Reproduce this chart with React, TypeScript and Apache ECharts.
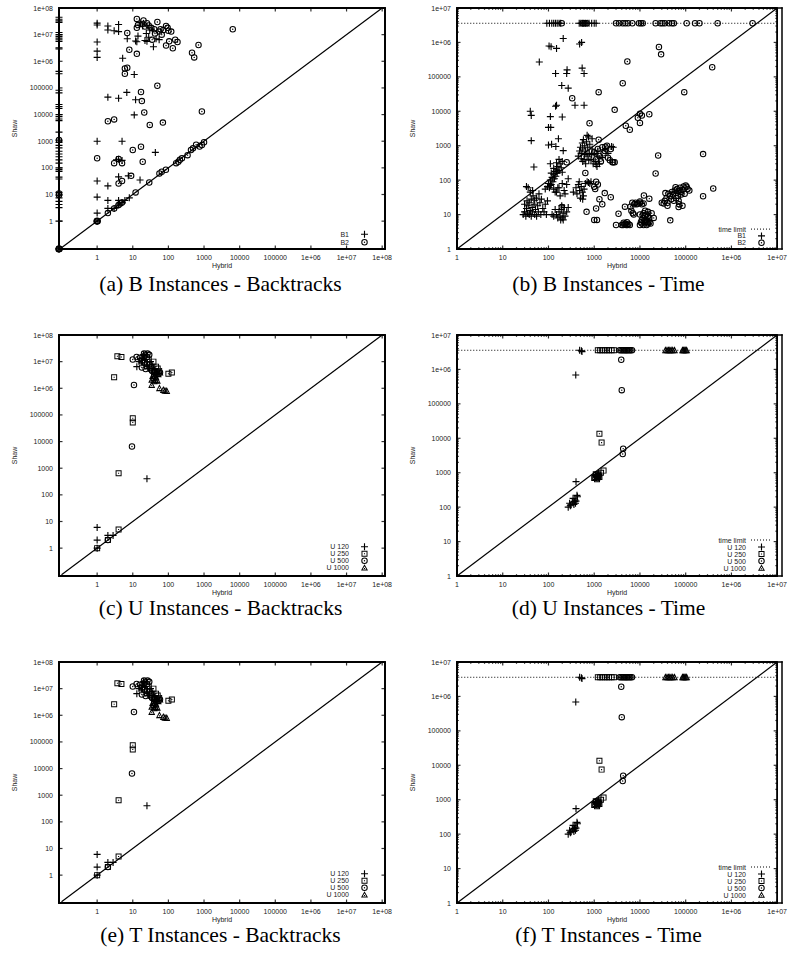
import React, { useEffect, useRef } from 'react';
import * as echarts from 'echarts';

type P = [number, number];

// ---------------- data ----------------
const TIME_LIMIT = 3600000;
const BACK_X_RANGE: P = [0.085, 1.2e8];
const BACK_Y_RANGE: P = [0.09, 1e8];
const TIME_RANGE: P = [1, 1e7];
const DIAG_BACK: P = [0.1, 1e8];
const DIAG_TIME: P = [1, 1e7];
const TL_X: P = [0.052, 1e7];
const BACK_MAJOR = [1, 10, 100, 1000, 1e4, 1e5, 1e6, 1e7, 1e8];
const TIME_MAJOR = [1, 10, 100, 1000, 1e4, 1e5, 1e6, 1e7];
const TIME_DECADES = [1, 10, 100, 1000, 1e4, 1e5, 1e6];
const MINOR_MULTS = [2, 3, 4, 5, 6, 7, 8, 9];

// (a) B instances - backtracks
const aB1: P[] = [
  [0.085, 4.5e7], [0.085, 3.8e7], [0.085, 3.3e7], [0.085, 2.9e7], [0.085, 1.2e7], [0.085, 1e7], [0.085, 8.6e6], [0.085, 7.4e6],
  [0.085, 6.4e6], [0.085, 5.6e6], [0.085, 3.2e6], [0.085, 2.9e6], [0.085, 4.2e5], [0.085, 3.4e5], [0.085, 8.2e4], [0.085, 6.5e4],
  [0.085, 2.4e4], [0.085, 2e4], [0.085, 1.7e4], [0.085, 1e4], [0.085, 8.4e3], [0.085, 6.8e3], [0.085, 5.9e3], [0.085, 2.2e3],
  [0.085, 1.1e3], [0.085, 900], [0.085, 700], [0.085, 560], [0.085, 420], [0.085, 330], [0.085, 260], [0.085, 200],
  [0.085, 150], [0.085, 100], [0.085, 86], [0.085, 74], [0.085, 45], [0.085, 38], [0.085, 12], [0.085, 9.5],
  [0.085, 7.5], [0.085, 5.5], [0.085, 4.2], [0.085, 3.2], [0.085, 1], [0.085, 0.09], [0.085, 0.092],
  [1, 2.7e7], [1, 2.3e7], [1, 5.3e6], [1, 2.4e6], [1, 1.4e6], [1, 1000], [1, 32], [1, 8], [1, 2], [1, 1],
  [2, 2.1e7], [2, 1.5e7], [3, 1.4e7], [4, 2.4e7], [4, 1.3e7], [7, 7e6], [5.2, 1.3e6], [11, 3.2e5], [6.8, 6.8e4],
  [2, 4.5e4], [4, 4.1e4], [12, 3.6e4], [11, 9.7e3], [5, 1000], [3.5, 200], [4, 210], [5, 190], [43, 380], [4, 46],
  [7.5, 50], [16, 35], [2, 21], [2, 6], [2, 3], [3, 3], [4, 6], [4, 4], [5, 5], [6, 6], [8, 7.5],
  [12, 5.8e6], [14, 8.8e6], [13, 5.4e6], [22, 6e6], [25, 5.6e6], [38, 3.5e6], [55, 6.5e6], [16, 2.8e7], [19, 2.1e7],
  [30, 1.5e7], [24, 1.1e7], [36, 1.4e7], [45, 7e6], [28, 8e6],
];
const aB2: P[] = [
  [0.085, 0.09], [0.088, 0.09], [0.085, 0.093], [0.083, 0.088], [0.085, 1100], [0.085, 11], [0.085, 9.5],
  [1, 1], [1.03, 1], [1, 1.04], [0.97, 0.98],
  [13, 3.9e7], [20, 3.4e7], [25, 2.7e7], [14, 2.3e7], [28, 2.2e7], [33, 1.8e7], [49, 3e7], [60, 1.6e7], [72, 1.5e7],
  [86, 2.1e7], [100, 1.4e7], [120, 1.3e7], [95, 1.8e7], [13, 1.8e7], [7, 1.15e7], [42, 1.1e7], [35, 6.5e6], [18, 2.5e7],
  [22, 2e7], [40, 1.6e7], [55, 1.3e7], [65, 1e7], [155, 6.5e6], [105, 5.6e6], [180, 5.3e6], [86, 3.9e6], [133, 3.1e6],
  [700, 4.1e6], [460, 2.1e6], [530, 1.4e6], [6400, 1.6e7], [8, 2.7e6], [13, 1.9e6], [6, 5.4e5], [7, 5.7e5], [6, 3.4e5],
  [49, 1.2e5], [17, 7e4], [18, 3.2e4], [21, 1.2e4], [870, 1.3e4], [2, 5.6e3], [3, 6.6e3], [30, 4.1e3], [70, 5e3],
  [10, 470], [17, 620], [1, 230], [4, 215], [3, 150], [5, 150], [19, 170], [9, 50], [5, 32], [4, 26], [29, 28], [12, 12],
  [2, 2], [3, 3], [4, 4], [5, 5], [4.5, 4.6], [56, 62], [65, 72], [85, 85], [165, 150], [190, 170], [210, 200], [240, 230],
  [345, 300], [430, 470], [490, 540], [600, 740], [750, 630], [870, 720], [1000, 920],
];

// (b) B instances - time
const bB1: P[] = [
  [92, 3.6e6], [105, 3.6e6], [118, 3.6e6], [130, 3.6e6], [142, 3.6e6], [155, 3.6e6], [170, 3.6e6], [185, 3.6e6],
  [470, 3.6e6], [510, 3.6e6], [550, 3.6e6], [590, 3.6e6], [640, 3.6e6], [700, 3.6e6], [770, 3.6e6], [880, 3.6e6],
  [1000, 3.6e6], [1100, 3.6e6],
  [103, 7.9e5], [114, 7.5e5], [150, 6.7e5], [210, 1.3e6], [480, 9e5], [530, 1e6], [63, 2.7e5], [143, 1.25e5],
  [255, 1.6e5], [250, 1.25e5], [545, 1.8e5], [600, 1.25e5], [195, 5.6e4], [270, 4.7e4], [380, 1.5e4], [600, 1.5e4],
  [150, 1.5e4], [143, 1.4e4], [40, 1e4], [42, 7.6e3], [110, 7e3], [200, 6.8e3], [100, 3.4e3], [112, 3.4e3], [42, 1.4e3],
  [100, 1.05e3], [117, 1.1e3], [145, 950], [165, 1.6e3], [210, 720], [48, 240], [33, 65], [2600, 900],
  [28, 10], [30, 12], [32, 9], [33, 15], [35, 11], [36, 18], [38, 10], [38, 22], [40, 13], [42, 9], [42, 28], [44, 16],
  [45, 12], [46, 35], [48, 20], [50, 10], [50, 26], [52, 14], [55, 9], [55, 30], [58, 18], [60, 12], [62, 40], [65, 22],
  [68, 10], [70, 28], [75, 15], [80, 12], [85, 20], [90, 10], [95, 25], [34, 25], [30, 20], [40, 45], [45, 50], [36, 60],
  [85, 55], [95, 65], [100, 80], [105, 60], [110, 100], [115, 75], [120, 120], [125, 90], [130, 150], [135, 110],
  [140, 180], [145, 130], [150, 200], [155, 160], [160, 250], [170, 190], [180, 300], [190, 230], [200, 170], [115, 160],
  [130, 220], [150, 320], [170, 400], [200, 350], [110, 300], [140, 45], [160, 60],
  [150, 10], [160, 8], [170, 12], [180, 9], [190, 14], [200, 8], [210, 11], [220, 16], [230, 9], [250, 12], [270, 16],
  [140, 14], [195, 18], [185, 7], [210, 7], [120, 10], [130, 9],
  [110, 70], [130, 55], [150, 45], [170, 60], [200, 80], [220, 50], [250, 75], [270, 110], [230, 40], [180, 35],
  [350, 45], [400, 60], [420, 40], [450, 75], [480, 50], [500, 30], [520, 65], [550, 45], [580, 35], [600, 55], [640, 80],
  [700, 90], [750, 85], [800, 80], [850, 90], [560, 28], [470, 90],
  [450, 500], [480, 700], [500, 900], [520, 600], [550, 1200], [560, 800], [580, 1500], [600, 400], [620, 1000], [650, 700],
  [680, 1300], [700, 500], [720, 900], [750, 1800], [780, 600], [800, 1100], [850, 400], [900, 800], [950, 300], [1000, 600],
  [1050, 350], [1100, 280], [1200, 500], [1300, 300], [1500, 450], [1800, 800], [2000, 600], [2400, 950], [1150, 250],
  [650, 300], [560, 350], [900, 1600], [700, 2000], [1200, 700], [520, 420], [620, 550], [760, 380], [880, 550],
];
const bB2: P[] = [
  [195, 3.6e6], [560, 3.6e6], [610, 3.6e6], [680, 3.6e6], [3000, 3.6e6], [3500, 3.6e6], [4200, 3.6e6], [4800, 3.6e6],
  [5500, 3.6e6], [6800, 3.6e6], [9500, 3.6e6], [1.05e4, 3.6e6], [1.15e4, 3.6e6], [2.2e4, 3.6e6], [2.8e4, 3.6e6],
  [3.1e4, 3.6e6], [3.5e4, 3.6e6], [4.3e4, 3.6e6], [5e4, 3.6e6], [5.5e4, 3.6e6], [1.05e5, 3.6e6], [1.6e5, 3.6e6],
  [2e5, 3.6e6], [5e5, 3.6e6], [2.9e6, 3.6e6],
  [2.6e4, 7.4e5], [2.9e4, 4.5e5], [5.3e3, 2.8e5], [3.8e5, 1.9e5], [4.2e3, 6.5e4], [9.3e4, 3.6e4], [1.25e3, 3.6e4],
  [330, 2.4e4], [2.8e3, 1.1e4], [1e4, 8.5e3], [9e3, 6.5e3], [1.1e4, 7.5e3], [1e4, 4.6e3], [1.6e4, 8.2e3], [790, 4.5e3],
  [4.9e3, 3.8e3], [6e3, 2.9e3], [1.25e3, 1.5e3], [2.5e4, 520], [2.4e5, 570], [2.2e4, 156], [250, 330], [2.6e3, 330],
  [640, 162], [1.1e3, 90], [1e3, 64], [1.7e3, 42], [2.3e3, 32], [1.3e3, 28], [1.5e3, 20], [1.1e3, 15], [680, 12],
  [3.4e3, 10.6], [3e3, 5], [4.7e3, 17], [1e4, 24], [2.4e5, 34], [4e5, 57], [1.05e5, 64], [4.6e4, 6.8], [1e3, 7],
  [1.15e3, 7], [195, 16.5], [1.22e4, 36], [1.6e4, 29], [1.05e3, 55], [1.2e3, 75],
  [1000, 650], [1200, 800], [1300, 500], [1500, 900], [1700, 700], [1900, 1000], [2000, 450], [2200, 380], [2500, 330],
  [1600, 600], [1100, 400], [1400, 350], [2800, 330], [2300, 800], [1750, 940],
  [4000, 5], [4300, 5], [4600, 5.2], [5000, 5], [5300, 5], [5600, 5.3], [6000, 5], [4800, 5.5], [5200, 6], [4400, 5.8],
  [6800, 22], [7500, 20], [8000, 22], [8500, 20], [9000, 21], [1e4, 22], [1.1e4, 20], [1.2e4, 21], [6200, 17], [7000, 11],
  [6500, 13], [7300, 10],
  [1e4, 5], [1.1e4, 5.5], [1.2e4, 5], [1.3e4, 6], [1.4e4, 5], [1.5e4, 5.5], [1.1e4, 7], [1.2e4, 8], [1.3e4, 9], [1.4e4, 10],
  [1.5e4, 12], [1.6e4, 8], [1e4, 10], [1.2e4, 11], [1.35e4, 7], [1.45e4, 6], [1.25e4, 6.5], [1.15e4, 9.5], [1.05e4, 6],
  [1.6e4, 6], [1.7e4, 5.5], [1.3e4, 13], [1.5e4, 9], [2e4, 8], [1.8e4, 11],
  [3e4, 22], [3.3e4, 21], [3.5e4, 25], [3.8e4, 30], [4e4, 22], [4.2e4, 40], [4.5e4, 35], [4.8e4, 28], [5e4, 45], [5.3e4, 38],
  [5.5e4, 25], [5.8e4, 50], [6e4, 42], [6.2e4, 30], [6.5e4, 55], [6.8e4, 35], [7e4, 48], [7.2e4, 20], [7.5e4, 60],
  [7.8e4, 45], [8e4, 38], [8.5e4, 52], [9e4, 65], [9.5e4, 40], [1e5, 70], [1.1e5, 55], [1.2e5, 50], [4e4, 18], [6e4, 62],
  [3.6e4, 42], [7e4, 25], [8.5e4, 18], [7e4, 16.5],
];

// (c) U instances - backtracks
const uBackU120: P[] = [
  [1, 6], [1, 2], [2, 3], [2.8, 3], [1, 1], [25, 400], [13, 6.5e6], [15, 1e7], [18, 9e6], [20, 1.8e7], [22, 1.2e7],
  [25, 7e6], [28, 5.5e6], [30, 1e7], [33, 8e6], [35, 4.5e6], [40, 5.5e6], [18, 1.3e7],
];
const uBackU250: P[] = [
  [1, 1], [2, 2], [4, 5], [4, 650], [10, 7.5e4], [10, 5.2e4], [3, 2.6e6], [3.7, 1.6e7], [4.8, 1.5e7], [38, 1e7],
  [45, 6.5e6], [125, 3.9e6], [100, 3.5e6], [20, 1.5e7], [25, 8e6], [30, 6e6], [35, 5e6], [28, 1.2e7], [40, 4e6],
  [50, 5.5e6], [22, 1e7], [18, 1.1e7], [55, 4.5e6],
];
const uBackU500: P[] = [
  [2, 2], [9.5, 6.5e3], [10.8, 1.33e6], [10, 1.2e7], [12.8, 1.5e7], [20.7, 2e7], [29, 1.8e7], [21, 9e6], [23, 5.3e6],
  [58, 3.9e6], [16, 1.4e7], [22, 1.7e7], [25, 1.5e7], [35, 4.5e6], [40, 3e6], [48, 4e6], [18, 6e6], [30, 8e6], [26, 2e7],
];
const uBackU1000: P[] = [
  [34, 2.2e6], [34, 1.4e6], [40, 1.9e6], [49, 2e6], [56, 1.05e6], [72, 9e5], [90, 8.2e5], [45, 2.7e6], [42, 3.4e6],
  [47, 4.1e6], [58, 4.1e6], [40, 4.8e6], [36, 3e6], [52, 3.5e6], [38, 2.5e6], [44, 2.1e6], [80, 8.5e5],
];

// (d) U instances - time
const uTimeU120: P[] = [
  [525, 3.5e6], [480, 3.6e6], [540, 3.3e6], [395, 6.9e5], [400, 550], [430, 200], [345, 180], [290, 130], [270, 100],
  [370, 145], [310, 115], [360, 120], [380, 160], [340, 140], [400, 150], [420, 220], [300, 110], [390, 130],
];
const uTimeU250: P[] = [
  [1200, 3.6e6], [1350, 3.6e6], [1500, 3.6e6], [1700, 3.6e6], [1900, 3.6e6], [2100, 3.6e6], [2400, 3.6e6], [2700, 3.6e6],
  [1300, 1.35e4], [1450, 7.5e3], [1600, 1150], [1000, 700], [1100, 850], [1250, 800], [1050, 750], [1150, 650],
  [1200, 900], [1300, 750], [1080, 900], [1400, 1000],
];
const uTimeU500: P[] = [
  [3900, 1.9e6], [4000, 2.5e5], [4300, 5e3], [4200, 3.5e3], [3600, 3.6e6], [3900, 3.6e6], [4200, 3.6e6], [4500, 3.6e6],
  [4800, 3.6e6], [5100, 3.6e6], [5400, 3.6e6], [5800, 3.6e6], [6200, 3.6e6], [6700, 3.6e6], [1150, 800], [1250, 850],
  [1200, 700],
];
const uTimeU1000: P[] = [
  [3.6e4, 3.7e6], [3.9e4, 3.7e6], [4.2e4, 3.7e6], [4.5e4, 3.7e6], [4.8e4, 3.7e6], [5.2e4, 3.7e6], [5.7e4, 3.7e6],
  [8.5e4, 3.7e6], [8.9e4, 3.7e6], [9.3e4, 3.7e6], [1e5, 3.7e6], [1.05e5, 3.7e6],
];

// (e), (f) T instances: the reference shows the same points as (c), (d)
const tBackU120 = uBackU120;
const tBackU250 = uBackU250;
const tBackU500 = uBackU500;
const tBackU1000 = uBackU1000;
const tTimeU120 = uTimeU120;
const tTimeU250 = uTimeU250;
const tTimeU500 = uTimeU500;
const tTimeU1000 = uTimeU1000;

const CAPTIONS = [
  '(a) B Instances - Backtracks',
  '(b) B Instances - Time',
  '(c) U Instances - Backtracks',
  '(d) U Instances - Time',
  '(e) T Instances - Backtracks',
  '(f) T Instances - Time',
];

// ---------------- symbols ----------------
const SYM_PATHS: Record<string, string> = {
  plus: 'M0,4.2H10V5.8H0Z M4.2,0H5.8V10H4.2Z',
  circ: 'M0,5A5,5 0 1,1 10,5A5,5 0 1,1 0,5Z M1.6,5A3.4,3.4 0 1,0 8.4,5A3.4,3.4 0 1,0 1.6,5Z M3.9,5A1.1,1.1 0 1,1 6.1,5A1.1,1.1 0 1,1 3.9,5Z',
  sqr: 'M0,0H10V10H0Z M1.6,1.6V8.4H8.4V1.6Z M4.1,4.1H5.9V5.9H4.1Z',
  tri: 'M5,0L10,9L0,9Z M5,3L2.3,7.5L7.7,7.5Z M4.3,5.3H5.7V6.7H4.3Z',
};
// hollow box (frame) drawn as a filled even-odd-free ring: outer clockwise, inner counter-clockwise
const FRAME_PATH = 'M0,0H100V100H0Z M0.5,0.5V99.5H99.5V0.5Z';
const SYM_SIZE: Record<string, number> = { plus: 7, circ: 6.5, sqr: 6, tri: 7 };
let registered = false;
function registerShapes() {
  if (registered) return;
  registered = true;
  Object.keys(SYM_PATHS).forEach((k) => {
    echarts.graphic.registerShape('mk_' + k, echarts.graphic.extendPath(SYM_PATHS[k], {}) as any);
  });
}

type SeriesDef = { name: string; sym: string; data: P[] };
type Panel = { kind: 'back' | 'time'; col: number; row: number; series: SeriesDef[]; legendBase: number; legendStep: number };

const PANELS: Panel[] = [
  { kind: 'back', col: 0, row: 0, legendBase: 6.7, legendStep: 8, series: [{ name: 'B1', sym: 'plus', data: aB1 }, { name: 'B2', sym: 'circ', data: aB2 }] },
  { kind: 'time', col: 1, row: 0, legendBase: 6.3, legendStep: 6.8, series: [{ name: 'B1', sym: 'plus', data: bB1 }, { name: 'B2', sym: 'circ', data: bB2 }] },
  { kind: 'back', col: 0, row: 1, legendBase: 8.3, legendStep: 7, series: [
    { name: 'U 120', sym: 'plus', data: uBackU120 }, { name: 'U 250', sym: 'sqr', data: uBackU250 },
    { name: 'U 500', sym: 'circ', data: uBackU500 }, { name: 'U 1000', sym: 'tri', data: uBackU1000 }] },
  { kind: 'time', col: 1, row: 1, legendBase: 8, legendStep: 7, series: [
    { name: 'U 120', sym: 'plus', data: uTimeU120 }, { name: 'U 250', sym: 'sqr', data: uTimeU250 },
    { name: 'U 500', sym: 'circ', data: uTimeU500 }, { name: 'U 1000', sym: 'tri', data: uTimeU1000 }] },
  { kind: 'back', col: 0, row: 2, legendBase: 8.3, legendStep: 7, series: [
    { name: 'U 120', sym: 'plus', data: tBackU120 }, { name: 'U 250', sym: 'sqr', data: tBackU250 },
    { name: 'U 500', sym: 'circ', data: tBackU500 }, { name: 'U 1000', sym: 'tri', data: tBackU1000 }] },
  { kind: 'time', col: 1, row: 2, legendBase: 8, legendStep: 7, series: [
    { name: 'U 120', sym: 'plus', data: tTimeU120 }, { name: 'U 250', sym: 'sqr', data: tTimeU250 },
    { name: 'U 500', sym: 'circ', data: tTimeU500 }, { name: 'U 1000', sym: 'tri', data: tTimeU1000 }] },
];

// ---------------- layout ----------------
const COL_LEFT = [59, 457];
const COL_W = [326, 325];
const ROW_TOP = [8, 335, 662];
const ROW_H = [241, 241, 241];
const CAP_X = [220.5, 608.5];
const CAP_Y = [284, 607.5, 934.5];
const SMALL_FONT = 'Liberation Sans';
const TXT = '#222';
const MAJOR_LEN = 3.5;
const MINOR_LEN = 1.8;
const TICK_W = 1.2;
const FRAME_W = 1.5;

function tickFmt(v: number): string {
  if (v < 0.999 || v > 1.001e8) return '';
  const e = Math.round(Math.log10(v));
  if (Math.abs(v - Math.pow(10, e)) > 1e-6 * v) return '';
  return e >= 6 ? '1e+0' + e : String(Math.pow(10, e));
}

// inward tick marks drawn as scatter symbols on the four sides
function tickSeries(i: number, vals: number[], xr: P, yr: P, len: number): any[] {
  const common = { type: 'scatter', xAxisIndex: i, yAxisIndex: i, symbol: 'rect', clip: false, silent: true, z: 3,
    itemStyle: { color: '#000' } };
  return [
    { ...common, data: vals.map((v) => [v, yr[0]]), symbolSize: [TICK_W, len], symbolOffset: [0, -len / 2] },
    { ...common, data: vals.map((v) => [v, yr[1]]), symbolSize: [TICK_W, len], symbolOffset: [0, len / 2] },
    { ...common, data: vals.map((v) => [xr[0], v]), symbolSize: [len, TICK_W], symbolOffset: [len / 2, 0] },
    { ...common, data: vals.map((v) => [xr[1], v]), symbolSize: [len, TICK_W], symbolOffset: [-len / 2, 0] },
  ];
}

function buildOption(): any {
  const grid: any[] = [], xAxis: any[] = [], yAxis: any[] = [], series: any[] = [], graphic: any[] = [];
  PANELS.forEach((p, i) => {
    const left = COL_LEFT[p.col], width = COL_W[p.col], top = ROW_TOP[p.row], height = ROW_H[p.row];
    const right = left + width, bottom = top + height;
    grid.push({ left, top, width, height, containLabel: false, show: true, borderColor: '#000', borderWidth: FRAME_W,
      backgroundColor: 'rgba(0,0,0,0)' });
    const isTime = p.kind === 'time';
    const xr = isTime ? TIME_RANGE : BACK_X_RANGE;
    const yr = isTime ? TIME_RANGE : BACK_Y_RANGE;
    const base = {
      type: 'log', logBase: 10, gridIndex: i, splitNumber: 7,
      axisLine: { show: true, onZero: false, lineStyle: { color: '#000', width: FRAME_W } },
      axisTick: { show: false }, minorTick: { show: false },
      splitLine: { show: false }, minorSplitLine: { show: false },
    };
    const lbl = { show: true, fontSize: 7, color: TXT, fontFamily: SMALL_FONT, formatter: tickFmt, showMinLabel: true, showMaxLabel: true };
    xAxis.push({ ...base, min: xr[0], max: xr[1], position: 'bottom', name: 'Hybrid', nameLocation: 'middle', nameGap: 13,
      nameTextStyle: { fontSize: 7, lineHeight: 7, color: TXT, fontFamily: SMALL_FONT }, axisLabel: { ...lbl, margin: 4.5 } });
    yAxis.push({ ...base, min: yr[0], max: yr[1], position: 'left', name: 'Shaw', nameLocation: 'middle', nameGap: 41,
      nameTextStyle: { fontSize: 7, color: TXT, fontFamily: SMALL_FONT }, axisLabel: { ...lbl, margin: 6 } });

    // frame: four filled bars (filled shapes render reliably)
    const bars = [
      { x: left - FRAME_W / 2, y: top - FRAME_W / 2, width: width + FRAME_W, height: FRAME_W },
      { x: left - FRAME_W / 2, y: bottom - FRAME_W / 2, width: width + FRAME_W, height: FRAME_W },
      { x: left - FRAME_W / 2, y: top - FRAME_W / 2, width: FRAME_W, height: height + FRAME_W },
      { x: right - FRAME_W / 2, y: top - FRAME_W / 2, width: FRAME_W, height: height + FRAME_W },
    ];
    bars.forEach((b) => graphic.push({ type: 'rect', silent: true, z: 10, shape: b, style: { fill: '#000', stroke: null } }));

    // frame: closed polyline through the four corners of the axes' extents
    series.push({ type: 'line', xAxisIndex: i, yAxisIndex: i, symbol: 'none', clip: false, silent: true, z: 3,
      data: [[xr[0], yr[0]], [xr[1], yr[0]], [xr[1], yr[1]], [xr[0], yr[1]], [xr[0], yr[0]]],
      lineStyle: { color: '#000', width: FRAME_W } });

    // ticks
    const majors = isTime ? TIME_MAJOR : BACK_MAJOR;
    series.push(...tickSeries(i, majors, xr, yr, MAJOR_LEN));
    if (isTime) {
      const minors: number[] = [];
      TIME_DECADES.forEach((d) => MINOR_MULTS.forEach((m) => minors.push(d * m)));
      series.push(...tickSeries(i, minors, xr, yr, MINOR_LEN));
    }

    const diag = isTime ? DIAG_TIME : DIAG_BACK;
    series.push({ type: 'line', xAxisIndex: i, yAxisIndex: i, data: [[diag[0], diag[0]], [diag[1], diag[1]]], symbol: 'none',
      lineStyle: { color: '#000', width: 1.2 }, silent: true, z: 1 });
    if (isTime) {
      series.push({ type: 'line', xAxisIndex: i, yAxisIndex: i, data: [[TL_X[0], TIME_LIMIT], [TL_X[1], TIME_LIMIT]], symbol: 'none',
        lineStyle: { color: '#000', width: 1, type: [1, 2] }, clip: false, silent: true, z: 1 });
    }
    p.series.forEach((s) => {
      series.push({ type: 'scatter', name: s.name, xAxisIndex: i, yAxisIndex: i, data: s.data, symbol: 'path://' + SYM_PATHS[s.sym],
        symbolSize: SYM_SIZE[s.sym], itemStyle: { color: '#000', opacity: 1 }, clip: false, silent: true, z: 2 });
    });

    // legend (gnuplot key)
    const entries: { text: string; sym?: string; line?: boolean }[] = [];
    if (isTime) entries.push({ text: 'time limit', line: true });
    p.series.forEach((s) => entries.push({ text: s.name, sym: s.sym }));
    const n = entries.length;
    entries.forEach((e, k) => {
      const y = bottom - (p.legendBase + (n - 1 - k) * p.legendStep);
      graphic.push({ type: 'text', x: right - 36, y, silent: true,
        style: { text: e.text, fill: TXT, fontSize: 7, lineHeight: 7, fontFamily: SMALL_FONT, align: 'right', verticalAlign: 'middle' } });
      const sx = right - 20.5;
      if (e.line) {
        graphic.push({ type: 'line', silent: true, shape: { x1: right - 31, y1: y, x2: right - 10, y2: y },
          style: { stroke: '#000', lineWidth: 1, lineDash: [1, 2] } });
      } else if (e.sym) {
        const sc = SYM_SIZE[e.sym] / 10;
        graphic.push({ type: 'mk_' + e.sym, silent: true, x: sx - 5 * sc, y: y - 5 * sc, scaleX: sc, scaleY: sc, style: { fill: '#000' } });
      }
    });
    graphic.push({ type: 'text', x: CAP_X[p.col], y: CAP_Y[p.row], silent: true,
      style: { text: CAPTIONS[i], fill: '#000', fontSize: 21.5, lineHeight: 16, fontFamily: 'Liberation Serif', align: 'center', verticalAlign: 'middle' } });
  });
  return { animation: false, backgroundColor: '#fff', grid, xAxis, yAxis, series, graphic };
}

export default function App() {
  const ref = useRef<HTMLDivElement>(null);
  useEffect(() => {
    if (!ref.current) return;
    registerShapes();
    const chart = echarts.init(ref.current, undefined, { renderer: 'svg' });
    chart.setOption(buildOption());
    return () => chart.dispose();
  }, []);
  return <div ref={ref} style={{ position: 'absolute', left: 0, top: 0, width: 790, height: 956, background: '#fff' }} />;
}
